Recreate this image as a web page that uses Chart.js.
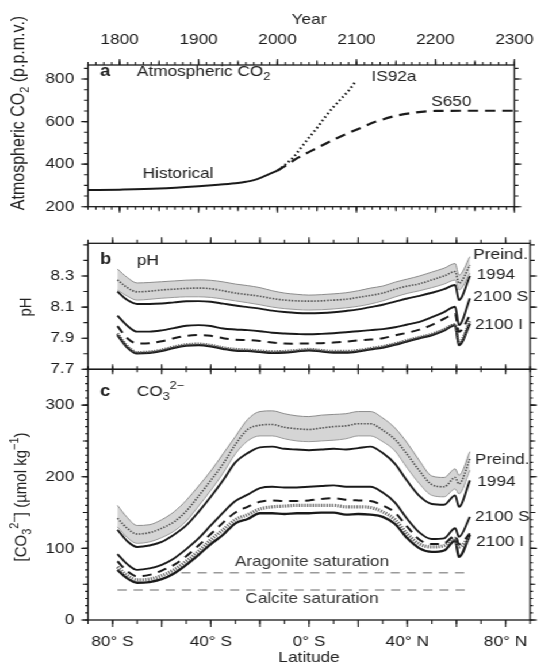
<!DOCTYPE html>
<html>
<head>
<meta charset="utf-8">
<script src="https://cdn.jsdelivr.net/npm/chart.js@4.4.0/dist/chart.umd.min.js"></script>
<style>
  html, body { margin: 0; padding: 0; background: #fff; overflow: hidden; }
  /* the source figure is stretched sideways, so draw narrow and widen */
  #wrap { position: relative; width: 480px; height: 664px; transform: scaleX(1.15); transform-origin: 0 0; }
  #wrap canvas { position: absolute; left: 0; top: 0; }
</style>
</head>
<body>
<div id="wrap">
  <canvas id="panelA" width="480" height="664"></canvas>
  <canvas id="panelB" width="480" height="664"></canvas>
  <canvas id="panelC" width="480" height="664"></canvas>
</div>
<script>
// ---- panel a: atmospheric CO2 ----
const histYears = [1760, 1800, 1850, 1900, 1925, 1950, 1960, 1970, 1980, 1990, 2000];
const histCO2 = [278, 280, 285, 296, 303, 311, 317, 325, 338, 354, 370];
const is92aYears = [2000, 2010, 2020, 2030, 2040, 2050, 2060, 2070, 2080, 2090, 2098];
const is92aCO2 = [370, 398, 432, 478, 525, 570, 620, 665, 705, 745, 785];
const s650Years = [2000, 2010, 2025, 2050, 2075, 2100, 2125, 2150, 2175, 2200, 2250, 2300];
const s650CO2 = [370, 392, 428, 476, 522, 562, 600, 627, 643, 650, 651, 651];
const yearTicks = [1800, 1900, 2000, 2100, 2200, 2300];
const co2Ticks = [200, 400, 600, 800];

// ---- panels b and c: zonal means by latitude ----
const lats = [-78, -74, -70, -65, -60, -55, -50, -45, -40, -35, -30, -25, -20, -15, -10, -5,
  0, 5, 10, 15, 20, 25, 30, 35, 40, 45, 50, 55, 59.5, 61, 65.5];

const phBandHi = [8.345, 8.29, 8.255, 8.258, 8.263, 8.268, 8.273, 8.275, 8.272, 8.262, 8.248, 8.238, 8.225, 8.205, 8.19, 8.182,
  8.177, 8.18, 8.185, 8.192, 8.205, 8.222, 8.235, 8.26, 8.28, 8.3, 8.325, 8.35, 8.38, 8.305, 8.424];
const phMid = [8.275, 8.225, 8.198, 8.202, 8.21, 8.215, 8.22, 8.222, 8.218, 8.205, 8.19, 8.18, 8.17, 8.155, 8.145, 8.14,
  8.138, 8.14, 8.145, 8.15, 8.162, 8.175, 8.19, 8.215, 8.235, 8.25, 8.275, 8.3, 8.328, 8.253, 8.37];
const phBandLo = [8.21, 8.17, 8.145, 8.15, 8.157, 8.162, 8.166, 8.166, 8.162, 8.152, 8.14, 8.128, 8.115, 8.1, 8.09, 8.084,
  8.081, 8.083, 8.088, 8.095, 8.105, 8.12, 8.14, 8.165, 8.188, 8.205, 8.225, 8.248, 8.274, 8.21, 8.317];
const ph1994 = [8.2, 8.145, 8.12, 8.12, 8.123, 8.13, 8.137, 8.138, 8.134, 8.122, 8.11, 8.1, 8.09, 8.077, 8.068, 8.062,
  8.06, 8.062, 8.067, 8.075, 8.085, 8.1, 8.115, 8.135, 8.155, 8.172, 8.192, 8.215, 8.242, 8.145, 8.3];
const ph2100S = [8.045, 7.98, 7.942, 7.942, 7.95, 7.965, 7.98, 7.984, 7.978, 7.962, 7.956, 7.952, 7.945, 7.935, 7.93, 7.927,
  7.925, 7.928, 7.932, 7.938, 7.945, 7.952, 7.958, 7.97, 7.988, 8.005, 8.035, 8.068, 8.102, 7.984, 8.156];
const ph2100Sdash = [7.978, 7.9, 7.866, 7.868, 7.88, 7.9, 7.915, 7.92, 7.915, 7.9, 7.89, 7.888, 7.882, 7.872, 7.866, 7.865,
  7.866, 7.868, 7.872, 7.878, 7.885, 7.891, 7.9, 7.918, 7.935, 7.955, 7.985, 8.025, 8.055, 7.941, 8.048];
const ph2100Idot = [7.93, 7.85, 7.81, 7.813, 7.826, 7.846, 7.86, 7.864, 7.856, 7.84, 7.83, 7.826, 7.82, 7.815, 7.817, 7.823,
  7.83, 7.823, 7.817, 7.817, 7.823, 7.836, 7.848, 7.866, 7.888, 7.908, 7.928, 7.958, 7.99, 7.87, 8.01];
const ph2100I = [7.92, 7.84, 7.802, 7.805, 7.818, 7.838, 7.852, 7.856, 7.848, 7.832, 7.82, 7.818, 7.812, 7.806, 7.808, 7.815,
  7.822, 7.815, 7.808, 7.808, 7.815, 7.828, 7.84, 7.858, 7.88, 7.9, 7.92, 7.95, 7.984, 7.855, 7.995];
const phTicks = [7.7, 7.9, 8.1, 8.3];

const co3BandHi = [160, 143, 132, 133, 140, 151, 167, 187, 208, 232, 256, 280, 291, 292, 288, 285,
  284, 286, 287, 288, 291, 291, 282, 268, 247, 222, 201, 199, 211, 202, 235];
const co3Mid = [142, 128, 120, 122, 128, 137, 152, 173, 195, 218, 245, 266, 272, 273, 269, 267,
  266, 268, 270, 271, 274, 274, 265, 252, 231, 208, 189, 186, 199, 190, 225];
const co3BandLo = [130, 115, 107, 109, 115, 124, 138, 159, 181, 205, 232, 250, 257, 257, 253, 250,
  249, 250, 251, 253, 257, 257, 249, 236, 212, 190, 174, 172, 183, 176, 209];
const co31994 = [126, 110, 102, 104, 109, 119, 132, 151, 172, 195, 220, 233, 241, 242, 239, 238,
  237, 238, 239, 238, 240, 242, 233, 218, 194, 173, 162, 161, 174, 158, 195];
const co32100S = [92, 78, 70, 72, 77, 86, 99, 114, 132, 150, 166, 175, 184, 186, 185, 185,
  186, 187, 188, 186, 186, 186, 178, 164, 141, 122, 113, 114, 128, 116, 144];
const co32100Sdash = [82, 68, 61, 63, 69, 77, 89, 104, 120, 136, 150, 158, 165, 167, 166, 166,
  167, 169, 170, 168, 167, 166, 160, 150, 130, 112, 106, 107, 118, 106, 121];
const co32100Idot = [74, 62, 56, 57, 62, 70, 82, 96, 112, 126, 140, 147, 155, 158, 159, 160,
  160, 160, 160, 158, 158, 157, 151, 140, 120, 106, 102, 104, 114, 102, 116];
const co32100I = [70, 58, 52, 53, 57, 65, 77, 91, 106, 119, 135, 141, 149, 149, 148, 149,
  149, 150, 150, 147, 148, 147, 144, 134, 114, 100, 95, 97, 111, 88, 119];
const aragLats = [-52, 64];
const aragSat = [66, 66];
const calcLats = [-78, 64];
const calcSat = [42, 42];
const co3Ticks = [0, 100, 200, 300];
const latTicks = [-80, -40, 0, 40, 80];
const latTickLabels = ["80° S", "40° S", "0° S", "40° N", "80° N"];

// ---- drawing ----
const FONT = "'Liberation Sans', Arial, Helvetica, sans-serif";
const INK = "#1a1a1a";
const TXT = "#222";
Chart.defaults.font.family = FONT;
Chart.defaults.color = INK;

const range = (a, b, step) => {
  const out = [];
  for (let v = a; v <= b + 1e-9; v += step) out.push(Math.round(v * 1000) / 1000);
  return out;
};

const pts = (xs, ys) => xs.map((x, i) => ({ x, y: ys[i] }));

const line = (xs, ys, style) => Object.assign({
  data: pts(xs, ys),
  pointRadius: 0,
  borderColor: INK,
  borderWidth: 1.8,
  fill: false,
  cubicInterpolationMode: "monotone",
}, style);

const tickFont = { family: FONT, size: 15 };

const yAxis = (min, max, ticks, fmt) => ({
  type: "linear",
  min, max,
  afterBuildTicks: (s) => { s.ticks = ticks.map((v) => ({ value: v })); },
  afterFit: (s) => { s.width = 76.5; },
  grid: { display: false, drawTicks: false },
  border: { display: false },
  ticks: { padding: 12, font: tickFont, color: INK, autoSkip: false, callback: fmt },
});

// frame, tick marks and text notes, per canvas
const decor = {};

const drawRich = (ctx, parts, x, y, size, align, bold) => {
  const fontFor = (k) => `${bold ? "bold " : ""}${k === "n" ? size : Math.round(size * 0.7)}px ${FONT}`;
  let w = 0;
  parts.forEach(([t, k]) => { ctx.font = fontFor(k); w += ctx.measureText(t).width; });
  let cx = align === "center" ? x - w / 2 : x;
  ctx.textAlign = "left";
  ctx.textBaseline = "middle";
  parts.forEach(([t, k]) => {
    ctx.font = fontFor(k);
    const dy = k === "sub" ? size * 0.3 : k === "sup" ? -size * 0.38 : 0;
    ctx.fillText(t, cx, y + dy);
    cx += ctx.measureText(t).width;
  });
};

const framePlugin = {
  id: "frameTicks",
  afterDraw(chart) {
    const d = decor[chart.canvas.id];
    if (!d) return;
    const { ctx, chartArea: ca, scales } = chart;
    ctx.save();
    ctx.strokeStyle = INK;
    ctx.lineWidth = 1.3;
    ctx.strokeRect(ca.left, ca.top, ca.right - ca.left, ca.bottom - ca.top);
    ctx.lineWidth = 1.1;
    d.marks.forEach((m) => {
      const s = scales[m.scale];
      ctx.beginPath();
      m.values.forEach((v) => {
        const p = s.getPixelForValue(v);
        if (m.edge === "top") { ctx.moveTo(p, ca.top - m.out); ctx.lineTo(p, ca.top + m.in); }
        else if (m.edge === "bottom") { ctx.moveTo(p, ca.bottom - m.in); ctx.lineTo(p, ca.bottom + m.out); }
        else if (m.edge === "left") { ctx.moveTo(ca.left - m.out, p); ctx.lineTo(ca.left + m.in, p); }
        else { ctx.moveTo(ca.right - m.in, p); ctx.lineTo(ca.right + m.out, p); }
      });
      ctx.stroke();
    });
    d.notes.forEach((n) => {
      const size = n.size || 15;
      ctx.fillStyle = n.color || TXT;
      if (n.rot) {
        ctx.save();
        ctx.translate(n.x, n.y);
        ctx.rotate(-Math.PI / 2);
        drawRich(ctx, n.p, 0, 0, size, "center", n.bold);
        ctx.restore();
      } else {
        drawRich(ctx, n.p, n.x, n.y, size, n.align, n.bold);
      }
    });
    ctx.restore();
  },
};

const sideMarks = (scale, edges, sets) => {
  const out = [];
  edges.forEach((edge) => sets.forEach(([values, len, inn]) => {
    out.push({ scale, edge, values, out: len, in: inn || 0 });
  }));
  return out;
};

const baseOptions = (padding) => ({
  responsive: false,
  devicePixelRatio: 1,
  animation: false,
  layout: { padding },
  plugins: { legend: { display: false }, tooltip: { enabled: false }, filler: { drawTime: "beforeDatasetsDraw" } },
});

// ---- panel a ----
decor.panelA = {
  marks: [
    ...sideMarks("x", ["top", "bottom"], [[range(1760, 2300, 10), 3], [range(1800, 2300, 50), 4.5], [yearTicks, 6]]),
    ...sideMarks("y", ["left", "right"], [[range(200, 850, 50), 3.5], [co2Ticks, 6]]),
  ],
  notes: [
    { p: [["a", "n"]], x: 87, y: 72, bold: true, size: 16 },
    { p: [["Atmospheric CO", "n"], ["2", "sub"]], x: 119, y: 72 },
    { p: [["IS92a", "n"]], x: 323, y: 77 },
    { p: [["S650", "n"]], x: 375, y: 102 },
    { p: [["Historical", "n"]], x: 124, y: 174 },
    { p: [["Year", "n"]], x: 268.75, y: 20, align: "center" },
    { p: [["Atmospheric CO", "n"], ["2", "sub"], [" (p.p.m.v.)", "n"]], x: 17, y: 113, rot: true, size: 16 },
  ],
};

const optA = baseOptions({ top: 0, left: 0, right: 19, bottom: 664 - 206.7 });
optA.scales = {
  x: {
    type: "linear", position: "top", min: 1760, max: 2300,
    afterBuildTicks: (s) => { s.ticks = yearTicks.map((v) => ({ value: v })); },
    afterFit: (s) => { s.height = 65; },
    grid: { display: false, drawTicks: false },
    border: { display: false },
    ticks: { padding: 16, font: tickFont, color: INK, autoSkip: false, maxRotation: 0, callback: (v) => String(v) },
  },
  y: yAxis(200, 866, co2Ticks, (v) => String(v)),
};

new Chart(document.getElementById("panelA"), {
  type: "line",
  data: {
    datasets: [
      line(histYears, histCO2, { borderWidth: 2 }),
      line(is92aYears, is92aCO2, { borderWidth: 2.2, borderDash: [1.6, 2.6] }),
      line(s650Years, s650CO2, { borderWidth: 2.2, borderDash: [9, 6] }),
    ],
  },
  options: optA,
  plugins: [framePlugin],
});

// ---- panel b ----
const latMinor = range(-90, 90, 10);
const latMajor = range(-80, 80, 20);

decor.panelB = {
  marks: [
    ...sideMarks("x", ["top"], [[latMinor, 3.5], [latMajor, 6]]),
    ...sideMarks("y", ["left", "right"], [[range(7.8, 8.5, 0.1), 4], [phTicks, 6]]),
  ],
  notes: [
    { p: [["b", "n"]], x: 87, y: 260, bold: true, size: 16 },
    { p: [["pH", "n"]], x: 119, y: 261 },
    { p: [["Preind.", "n"]], x: 411.6, y: 255 },
    { p: [["1994", "n"]], x: 414.5, y: 275 },
    { p: [["2100 S", "n"]], x: 411.6, y: 297 },
    { p: [["2100 I", "n"]], x: 413, y: 325 },
    { p: [["pH", "n"]], x: 23, y: 307, rot: true },
  ],
};

const optB = baseOptions({ top: 243.3, left: 0, right: 19, bottom: 664 - 369.3 });
optB.scales = {
  x: { type: "linear", display: false, min: -90, max: 90 },
  y: yAxis(7.7, 8.51, phTicks, (v) => v.toFixed(1)),
};

new Chart(document.getElementById("panelB"), {
  type: "line",
  data: {
    datasets: [
      line(lats, phBandHi, { borderColor: "#8c8c8c", borderWidth: 1, fill: "+1", backgroundColor: "#d5d5d5" }),
      line(lats, phBandLo, { borderColor: "#9a9a9a", borderWidth: 1 }),
      line(lats, phMid, { borderColor: "#4a4a4a", borderWidth: 1.6, borderDash: [1.4, 1.4] }),
      line(lats, ph1994, { borderWidth: 1.9 }),
      line(lats, ph2100S, { borderWidth: 1.9 }),
      line(lats, ph2100Sdash, { borderWidth: 2, borderDash: [8, 6] }),
      line(lats, ph2100Idot, { borderColor: "#555", borderWidth: 2.5, borderDash: [1.2, 1.2] }),
      line(lats, ph2100I, { borderWidth: 2.3 }),
    ],
  },
  options: optB,
  plugins: [framePlugin],
});

// ---- panel c ----
decor.panelC = {
  marks: [
    ...sideMarks("x", ["top"], [[latMinor, 3, 3], [latMajor, 5, 5]]),
    ...sideMarks("x", ["bottom"], [[latMinor, 4], [latMajor, 7]]),
    ...sideMarks("y", ["left", "right"], [[range(0, 350, 10), 2.5], [range(0, 350, 50), 4.5], [co3Ticks, 6]]),
  ],
  notes: [
    { p: [["c", "n"]], x: 87, y: 392, bold: true, size: 16 },
    { p: [["CO", "n"], ["3", "sub"], ["2\u2212", "sup"]], x: 119, y: 392 },
    { p: [["Preind.", "n"]], x: 413, y: 460 },
    { p: [["1994", "n"]], x: 415, y: 482 },
    { p: [["2100 S", "n"]], x: 413, y: 517 },
    { p: [["2100 I", "n"]], x: 414, y: 542 },
    { p: [["Aragonite saturation", "n"]], x: 271.3, y: 562, align: "center", color: "#333" },
    { p: [["Calcite saturation", "n"]], x: 271.3, y: 599, align: "center", color: "#333" },
    { p: [["Latitude", "n"]], x: 268.75, y: 658, align: "center" },
    { p: [["[CO", "n"], ["3", "sub"], ["2\u2212", "sup"], ["] (\u00b5mol kg", "n"], ["\u22121", "sup"], [")", "n"]], x: 19, y: 497, rot: true },
  ],
};

const optC = baseOptions({ top: 369.3, left: 0, right: 19, bottom: 0 });
optC.scales = {
  x: {
    type: "linear", position: "bottom", min: -90, max: 90,
    afterBuildTicks: (s) => { s.ticks = latTicks.map((v) => ({ value: v })); },
    afterFit: (s) => { s.height = 44; },
    grid: { display: false, drawTicks: false },
    border: { display: false },
    ticks: {
      padding: 13, font: tickFont, color: INK, autoSkip: false, maxRotation: 0,
      callback: (v) => latTickLabels[latTicks.indexOf(v)] ?? "",
    },
  },
  y: yAxis(0, 350, co3Ticks, (v) => String(v)),
};

new Chart(document.getElementById("panelC"), {
  type: "line",
  data: {
    datasets: [
      line(lats, co3BandHi, { borderColor: "#8c8c8c", borderWidth: 1, fill: "+1", backgroundColor: "#d5d5d5" }),
      line(lats, co3BandLo, { borderColor: "#9a9a9a", borderWidth: 1 }),
      line(lats, co3Mid, { borderColor: "#4a4a4a", borderWidth: 1.6, borderDash: [1.4, 1.4] }),
      line(lats, co31994, { borderWidth: 1.9 }),
      line(lats, co32100S, { borderWidth: 1.9 }),
      line(lats, co32100Sdash, { borderWidth: 2, borderDash: [8, 6] }),
      line(lats, co32100Idot, { borderColor: "#666", borderWidth: 3.2, borderDash: [1.2, 1.2] }),
      line(lats, co32100I, { borderWidth: 2.3 }),
      line(aragLats, aragSat, { borderColor: "#9a9a9a", borderWidth: 1.5, borderDash: [8, 6] }),
      line(calcLats, calcSat, { borderColor: "#9a9a9a", borderWidth: 1.5, borderDash: [8, 6] }),
    ],
  },
  options: optC,
  plugins: [framePlugin],
});
</script>
</body>
</html>
